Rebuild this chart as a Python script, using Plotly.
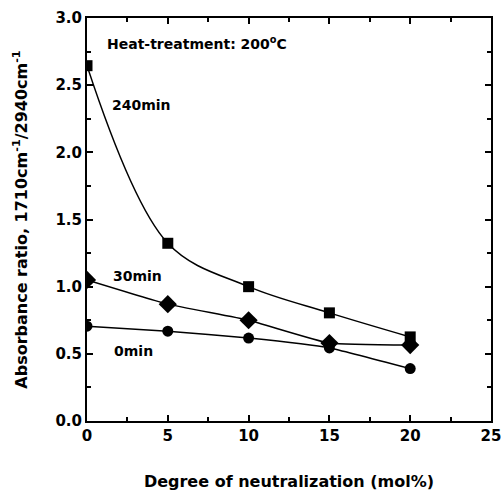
import plotly.graph_objects as go

# Degree of neutralization (mol%)
neutralization = [0, 5, 10, 15, 20]

# Absorbance ratio 1710/2940 cm-1 after heat treatment at 200 °C
ratio_240min = [2.645, 1.323, 1.0, 0.805, 0.626]
ratio_30min = [1.05, 0.87, 0.75, 0.58, 0.565]
ratio_0min = [0.706, 0.669, 0.617, 0.544, 0.39]

x_ticks = [0, 5, 10, 15, 20, 25]
y_ticks = [0.0, 0.5, 1.0, 1.5, 2.0, 2.5, 3.0]

FONT = "DejaVu Sans, Arial, sans-serif"

fig = go.Figure()

fig.add_trace(go.Scatter(
    x=neutralization, y=ratio_240min, mode="lines+markers",
    line=dict(color="black", width=1.5, shape="spline", smoothing=1.0),
    marker=dict(symbol="square", size=11, color="black"),
    showlegend=False,
))
fig.add_trace(go.Scatter(
    x=neutralization, y=ratio_30min, mode="lines+markers",
    line=dict(color="black", width=1.5, shape="spline", smoothing=0.4),
    marker=dict(symbol="diamond", size=14, color="black"),
    showlegend=False,
))
fig.add_trace(go.Scatter(
    x=neutralization, y=ratio_0min, mode="lines+markers",
    line=dict(color="black", width=1.5, shape="spline", smoothing=0.4),
    marker=dict(symbol="circle", size=11, color="black"),
    showlegend=False,
))

axis_common = dict(
    showline=True, linecolor="black", linewidth=2, mirror="allticks",
    ticks="inside", ticklen=6, tickwidth=1.5, tickcolor="black",
    showgrid=False, zeroline=False, automargin=False,
    tickfont=dict(family=FONT, size=15, color="black"),
)

fig.update_xaxes(
    range=[0, 25], tickvals=x_ticks, ticktext=[f"<b>{v}</b>" for v in x_ticks],
    minor=dict(ticks="inside", ticklen=4, tickwidth=1.5, tickcolor="black", dtick=2.5),
    title=dict(text="<b>Degree of neutralization (mol%)</b>", standoff=32,
               font=dict(family=FONT, size=16, color="black")),
    **axis_common,
)
fig.update_yaxes(
    range=[0, 3.0], tickvals=y_ticks, ticktext=[f"<b>{v:.1f}</b>" for v in y_ticks],
    minor=dict(ticks="inside", ticklen=4, tickwidth=1.5, tickcolor="black", dtick=0.25),
    title=dict(text="<b>Absorbance ratio, 1710cm<sup>-1</sup>/2940cm<sup>-1</sup></b>",
               standoff=24, font=dict(family=FONT, size=16, color="black")),
    **axis_common,
)

label_font = dict(family=FONT, size=14, color="black")
fig.add_annotation(x=1.1, y=2.815, text="<b>Heat-treatment: 200<sup>o</sup>C</b>",
                   showarrow=False, xanchor="left", font=label_font)
fig.add_annotation(x=1.4, y=2.354, text="<b>240min</b>",
                   showarrow=False, xanchor="left", font=label_font)
fig.add_annotation(x=1.5, y=1.078, text="<b>30min</b>",
                   showarrow=False, xanchor="left", font=label_font)
fig.add_annotation(x=1.55, y=0.52, text="<b>0min</b>",
                   showarrow=False, xanchor="left", font=label_font)

fig.update_layout(
    width=503, height=493,
    margin=dict(l=87, r=12, t=18, b=72),
    paper_bgcolor="white", plot_bgcolor="white",
)

fig.write_html("out.html")
